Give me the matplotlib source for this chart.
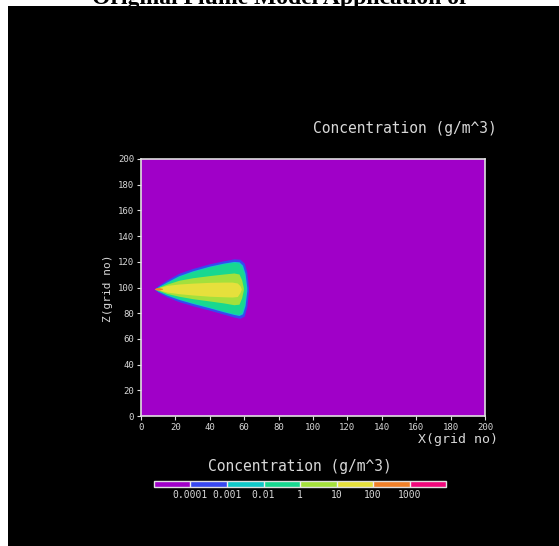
import numpy as np
import matplotlib
matplotlib.use("Agg")
import matplotlib.pyplot as plt
from matplotlib.colors import ListedColormap, BoundaryNorm
from matplotlib.cm import ScalarMappable
from matplotlib.patches import Rectangle

# colour classes of the concentration scale (g/m^3)
level_colors = ["#a000c8", "#3848f0", "#10c8c8", "#18d890",
                "#a4e03c", "#e6e03c", "#f08028", "#f0087c"]
cbar_labels = ["0.0001", "0.001", "0.01", "1", "10", "100", "1000"]

xticks = list(range(0, 201, 20))
zticks = list(range(0, 201, 20))

# plume bands, outer -> inner (x grid no, upper / lower z grid no)
x_blue = [7.8, 10, 15, 22, 30, 40, 48, 54, 57.5, 60, 61.5, 62.5]
up_blue = [99.2, 101.6, 105.8, 111, 114.8, 118.5, 120.8, 122.3, 122, 119, 112, 100]
lo_blue = [98.4, 96.2, 92.7, 89, 85.8, 82.3, 79.3, 77, 76, 77.8, 85, 97]

x_cyan = [8.5, 10, 15, 22, 30, 40, 48, 54, 57, 59, 60.5, 61.5]
up_cyan = [99, 100.6, 104.3, 109.2, 113, 116.7, 119, 120.3, 120, 117.5, 111, 100]
lo_cyan = [98.5, 97.1, 94.1, 90.7, 87.6, 84.1, 81.1, 79, 78.2, 79.5, 86, 97.5]

x_green = [9, 10, 15, 22, 30, 40, 48, 54, 56.5, 58.5, 60, 61]
up_green = [99, 100.3, 103.7, 108.5, 112.3, 116, 118.3, 119.5, 119, 116.5, 110, 100]
lo_green = [98.6, 97.4, 94.6, 91.3, 88.3, 84.8, 81.8, 79.8, 79.2, 80.5, 87, 97.8]

x_ygreen = [9, 15, 22, 30, 40, 48, 54, 57, 58.5, 59.5]
up_ygreen = [99.4, 102.6, 105.6, 107.6, 109.3, 110.5, 111.3, 110.5, 106, 100]
lo_ygreen = [98.4, 95.4, 93.2, 91.3, 89.5, 88, 86.6, 87, 92, 98]

x_yellow = [9.5, 15, 22, 30, 40, 48, 53, 56, 57.5, 58.3]
up_yellow = [99.5, 101.6, 102.7, 103.4, 104, 104.2, 104.2, 103.5, 101.5, 99]
lo_yellow = [98.5, 96.5, 95.2, 94.2, 93.2, 92.8, 92.6, 93, 96, 98.6]

x_orange = [7.8, 9, 10.5, 12.5]
up_orange = [99, 100, 100, 99.3]
lo_orange = [98.6, 98, 98, 98.7]

bands = [
    (x_blue, lo_blue, up_blue, level_colors[1]),
    (x_cyan, lo_cyan, up_cyan, level_colors[2]),
    (x_green, lo_green, up_green, level_colors[3]),
    (x_ygreen, lo_ygreen, up_ygreen, level_colors[4]),
    (x_yellow, lo_yellow, up_yellow, level_colors[5]),
    (x_orange, lo_orange, up_orange, level_colors[6]),
]

txt = "#d8d8d8"
mono = "DejaVu Sans Mono"

fig = plt.figure(figsize=(5.59, 5.46), dpi=100, facecolor="black")

# white page margins of the scanned figure
fig.add_artist(Rectangle((0, 1 - 6 / 546), 1, 6 / 546, transform=fig.transFigure,
                         facecolor="white", edgecolor="none", zorder=0))
fig.add_artist(Rectangle((0, 0), 8 / 559, 1, transform=fig.transFigure,
                         facecolor="white", edgecolor="none", zorder=0))
fig.text(0.5, 1 - 4 / 546, "Original Plume Model Application of", ha="center",
         va="baseline", fontsize=17, fontweight="bold", family="Liberation Serif",
         color="black", zorder=1)

ax = fig.add_axes([141 / 559, 1 - 416 / 546, 344 / 559, 257 / 546])
ax.set_facecolor(level_colors[0])
for xs, lo, up, c in bands:
    ax.fill_between(xs, lo, up, color=c, linewidth=0)
ax.set_xlim(0, 200)
ax.set_ylim(0, 200)
ax.set_xticks(xticks)
ax.set_yticks(zticks)
for s in ax.spines.values():
    s.set_color("#e0e0e0")
    s.set_linewidth(1.2)
ax.tick_params(colors="#e0e0e0", labelcolor=txt, length=3, width=0.8,
               labelsize=6.5, pad=2)
for lab in ax.get_xticklabels() + ax.get_yticklabels():
    lab.set_family(mono)

fig.text(498 / 559, 1 - 440 / 546, "X(grid no)", ha="right", va="center",
         color=txt, fontsize=9.5, family=mono)
fig.text(108 / 559, 1 - 288 / 546, "Z(grid no)", ha="center", va="center",
         rotation=90, color=txt, fontsize=8, family=mono)
fig.text(497 / 559, 1 - 128 / 546, "Concentration (g/m^3)", ha="right",
         va="center", color=txt, fontsize=10.5, family=mono)
fig.text(300 / 559, 1 - 466 / 546, "Concentration (g/m^3)", ha="center",
         va="center", color=txt, fontsize=10.5, family=mono)

cax = fig.add_axes([154 / 559, 1 - 487 / 546, 292 / 559, 6 / 546])
cmap = ListedColormap(level_colors)
norm = BoundaryNorm(np.arange(len(level_colors) + 1), len(level_colors))
cb = fig.colorbar(ScalarMappable(norm=norm, cmap=cmap), cax=cax,
                  orientation="horizontal", drawedges=True,
                  ticks=np.arange(1, len(level_colors)))
cb.ax.set_xticklabels(cbar_labels)
cb.outline.set_edgecolor("#e0e0e0")
cb.outline.set_linewidth(1)
cb.dividers.set_color("#f0f0f0")
cb.dividers.set_linewidth(1)
cb.ax.tick_params(length=0, labelcolor=txt, labelsize=7, pad=2)
for lab in cb.ax.get_xticklabels():
    lab.set_family(mono)

fig.savefig("out.png", dpi=100, facecolor="black")
